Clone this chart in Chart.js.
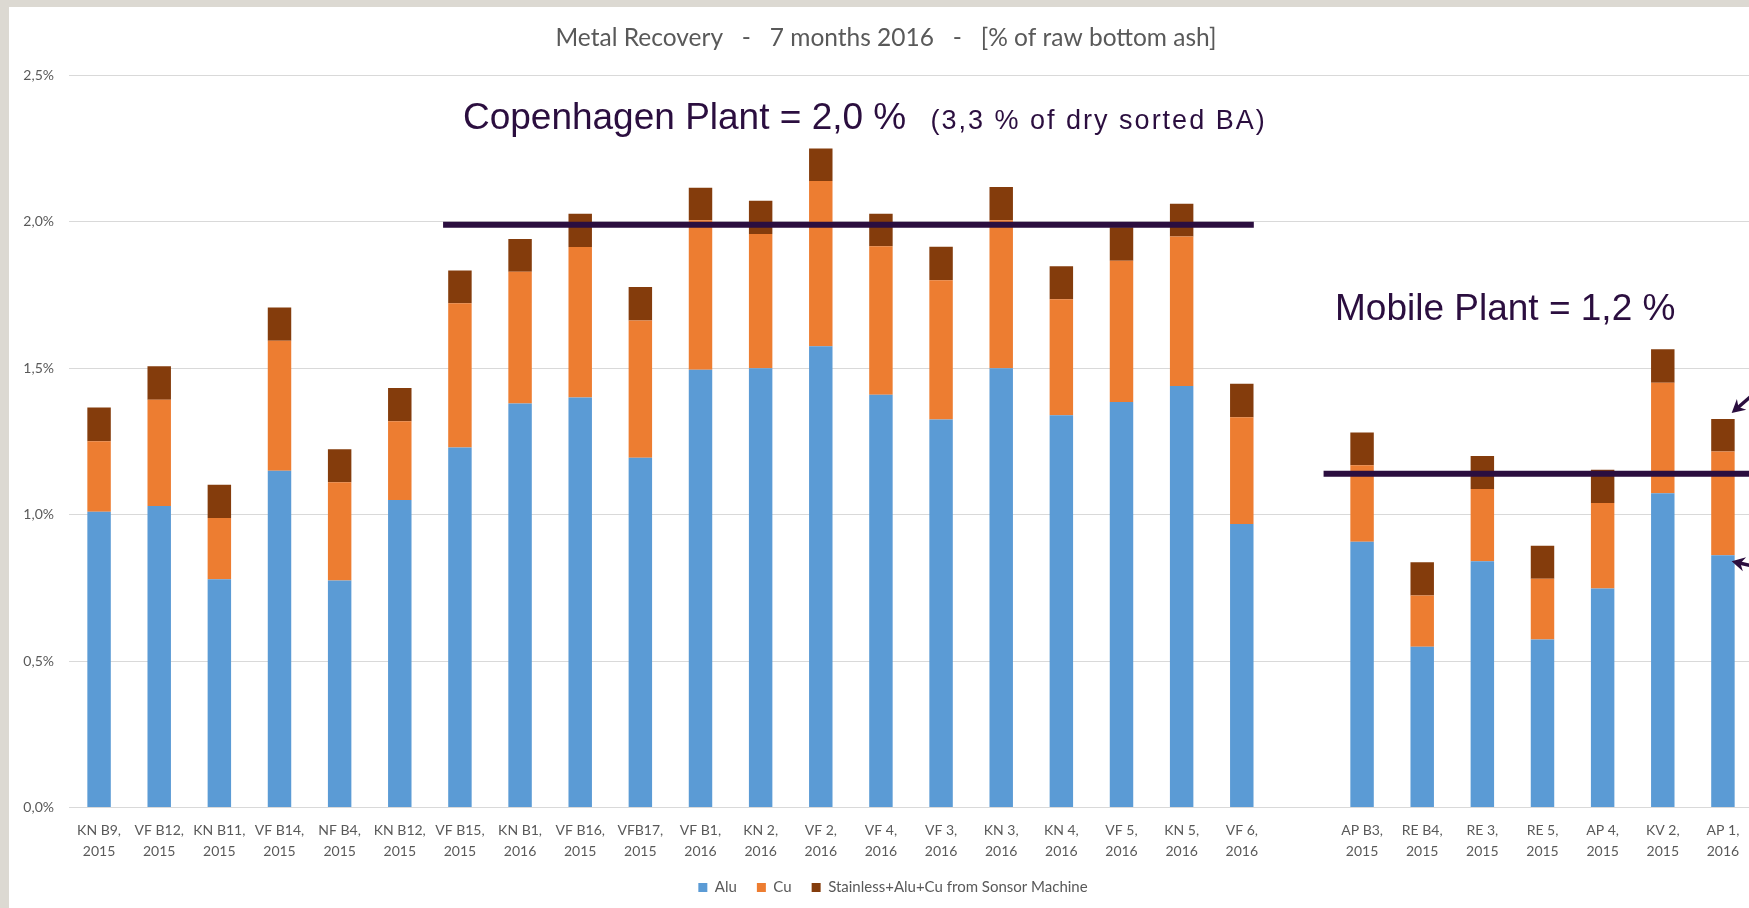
<!DOCTYPE html>
<html>
<head>
<meta charset="utf-8">
<title>Metal Recovery</title>
<script src="https://cdn.jsdelivr.net/npm/chart.js@4.4.1/dist/chart.umd.min.js"></script>
<style>
  html, body { margin: 0; padding: 0; overflow: hidden; }
  body { background: #dcd9d2; width: 1749px; height: 908px; position: relative; }
  #wrap { position: absolute; left: 9px; top: 7px; width: 1760px; height: 901px; background: #ffffff; }
  canvas { display: block; }
</style>
</head>
<body>
<div id="wrap"><canvas id="chart" width="1760" height="898"></canvas></div>
<script>
// categories (empty slot separates the two plants)
const categories = [
  ["KN B9,", "2015"], ["VF B12,", "2015"], ["KN B11,", "2015"], ["VF B14,", "2015"],
  ["NF B4,", "2015"], ["KN B12,", "2015"], ["VF B15,", "2015"], ["KN B1,", "2016"],
  ["VF B16,", "2015"], ["VFB17,", "2015"], ["VF B1,", "2016"], ["KN 2,", "2016"],
  ["VF 2,", "2016"], ["VF 4,", "2016"], ["VF 3,", "2016"], ["KN 3,", "2016"],
  ["KN 4,", "2016"], ["VF 5,", "2016"], ["KN 5,", "2016"], ["VF 6,", "2016"],
  "",
  ["AP B3,", "2015"], ["RE B4,", "2015"], ["RE 3,", "2015"], ["RE 5,", "2015"],
  ["AP 4,", "2015"], ["KV 2,", "2015"], ["AP 1,", "2016"]
];

// % of raw bottom ash
const alu = [1.01, 1.03, 0.78, 1.15, 0.775, 1.05, 1.23, 1.38, 1.40, 1.195,
  1.495, 1.50, 1.575, 1.41, 1.325, 1.50, 1.34, 1.385, 1.44, 0.968,
  null, 0.908, 0.549, 0.841, 0.574, 0.748, 1.073, 0.862];
const cu = [0.241, 0.363, 0.209, 0.444, 0.336, 0.269, 0.492, 0.45, 0.514, 0.468,
  0.511, 0.459, 0.565, 0.507, 0.476, 0.506, 0.396, 0.482, 0.51, 0.365,
  null, 0.261, 0.175, 0.247, 0.207, 0.292, 0.378, 0.354];
const stainless = [0.115, 0.114, 0.113, 0.114, 0.113, 0.114, 0.112, 0.112, 0.114, 0.115,
  0.111, 0.113, 0.111, 0.111, 0.114, 0.113, 0.113, 0.115, 0.112, 0.114,
  null, 0.112, 0.114, 0.113, 0.113, 0.114, 0.114, 0.111];

const yTicks = [0, 0.5, 1.0, 1.5, 2.0, 2.5];

// plant averages (drawn as horizontal bars)
const copenhagenAvg = 1.99;
const mobileAvg = 1.14;

const seriesNames = ["Alu", "Cu", "Stainless+Alu+Cu from Sonsor Machine"];

const noteColor = "#2b0e3f";
const greyText = "#595959";

function pct(v) {
  return v.toFixed(1).replace(".", ",") + "%";
}

// averages, notes and the two arrows on the right edge
const plantNotes = {
  id: "plantNotes",
  afterLayout(chart) {
    // legend sits a little right of centre in the original
    chart.legend.left += 7;
    chart.legend.right += 7;
  },
  afterDatasetsDraw(chart) {
    const ctx = chart.ctx;
    const x = chart.scales.x;
    const y = chart.scales.y;

    ctx.save();
    ctx.strokeStyle = noteColor;
    ctx.lineWidth = 6;
    ctx.beginPath();
    ctx.moveTo(x.getPixelForValue(5.72), y.getPixelForValue(copenhagenAvg));
    ctx.lineTo(x.getPixelForValue(19.2), y.getPixelForValue(copenhagenAvg));
    ctx.moveTo(x.getPixelForValue(20.36), y.getPixelForValue(mobileAvg));
    ctx.lineTo(x.getPixelForValue(28), y.getPixelForValue(mobileAvg));
    ctx.stroke();

    ctx.fillStyle = noteColor;
    ctx.textBaseline = "alphabetic";
    ctx.textAlign = "left";
    ctx.font = "37px 'Liberation Sans', Arial, sans-serif";
    ctx.fillText("Copenhagen Plant = 2,0 %", x.getPixelForValue(6.05), y.getPixelForValue(2.317));
    ctx.fillText("Mobile Plant = 1,2 %", x.getPixelForValue(20.55), y.getPixelForValue(1.664));
    ctx.font = "27px 'Liberation Sans', Arial, sans-serif";
    if ("letterSpacing" in ctx) ctx.letterSpacing = "2px";
    ctx.fillText("(3,3 % of dry sorted BA)", x.getPixelForValue(13.825), y.getPixelForValue(2.317));
    if ("letterSpacing" in ctx) ctx.letterSpacing = "0px";

    // arrows pointing at the last bar
    const last = categories.length - 1;
    const topBar = chart.getDatasetMeta(2).data[last];
    const aluBar = chart.getDatasetMeta(0).data[last];
    if (topBar && aluBar) {
      const edge = topBar.x + topBar.width / 2 - 3;
      drawArrow(ctx, edge, topBar.y - 6, edge + 30, topBar.y - 32);
      drawArrow(ctx, edge, aluBar.y + 6, edge + 30, aluBar.y + 13);
    }
    ctx.restore();
  }
};

function drawArrow(ctx, tx, ty, fx, fy) {
  const ang = Math.atan2(fy - ty, fx - tx);
  const head = 15;
  ctx.lineWidth = 3.5;
  ctx.beginPath();
  ctx.moveTo(fx, fy);
  ctx.lineTo(tx + Math.cos(ang) * 8, ty + Math.sin(ang) * 8);
  ctx.stroke();
  ctx.beginPath();
  ctx.moveTo(tx, ty);
  ctx.lineTo(tx + Math.cos(ang - 0.5) * head, ty + Math.sin(ang - 0.5) * head);
  ctx.lineTo(tx + Math.cos(ang) * head * 0.6, ty + Math.sin(ang) * head * 0.6);
  ctx.lineTo(tx + Math.cos(ang + 0.5) * head, ty + Math.sin(ang + 0.5) * head);
  ctx.closePath();
  ctx.fill();
}

const colors = ["#5b9bd5", "#ed7d31", "#843c0c"];

new Chart(document.getElementById("chart"), {
  type: "bar",
  data: {
    labels: categories,
    datasets: [
      { label: seriesNames[0], data: alu, backgroundColor: colors[0] },
      { label: seriesNames[1], data: cu, backgroundColor: colors[1] },
      { label: seriesNames[2], data: stainless, backgroundColor: colors[2] }
    ]
  },
  options: {
    responsive: false,
    animation: false,
    barPercentage: 0.39,
    categoryPercentage: 1.0,
    layout: { padding: { left: 10, right: 16, top: 0, bottom: 0 } },
    plugins: {
      title: {
        display: true,
        text: "Metal Recovery   -   7 months 2016   -   [% of raw bottom ash]",
        color: greyText,
        font: { family: "Lato", size: 24.5, weight: "normal" },
        padding: { top: 16.3, bottom: 22.8 }
      },
      legend: {
        position: "bottom",
        labels: {
          boxWidth: 9,
          boxHeight: 9,
          padding: 20,
          color: greyText,
          font: { family: "Lato", size: 15 }
        }
      },
      tooltip: { enabled: false }
    },
    scales: {
      x: {
        stacked: true,
        afterFit(scale) { scale.height = scale.height - 15; },
        grid: { display: false, drawTicks: false },
        border: { display: false },
        ticks: {
          color: greyText,
          font: { family: "Lato", size: 14, lineHeight: 1.48 },
          padding: 13,
          maxRotation: 0,
          autoSkip: false
        }
      },
      y: {
        stacked: true,
        min: 0,
        max: 2.5,
        afterFit(scale) { scale.width = 50; },
        afterBuildTicks(scale) { scale.ticks = yTicks.map(v => ({ value: v })); },
        grid: { color: "#d9d9d9", lineWidth: 1, drawTicks: false },
        border: { display: false },
        ticks: {
          color: greyText,
          font: { family: "Lato", size: 14 },
          padding: 15,
          callback: v => pct(v)
        }
      }
    }
  },
  plugins: [plantNotes]
});
</script>
</body>
</html>
